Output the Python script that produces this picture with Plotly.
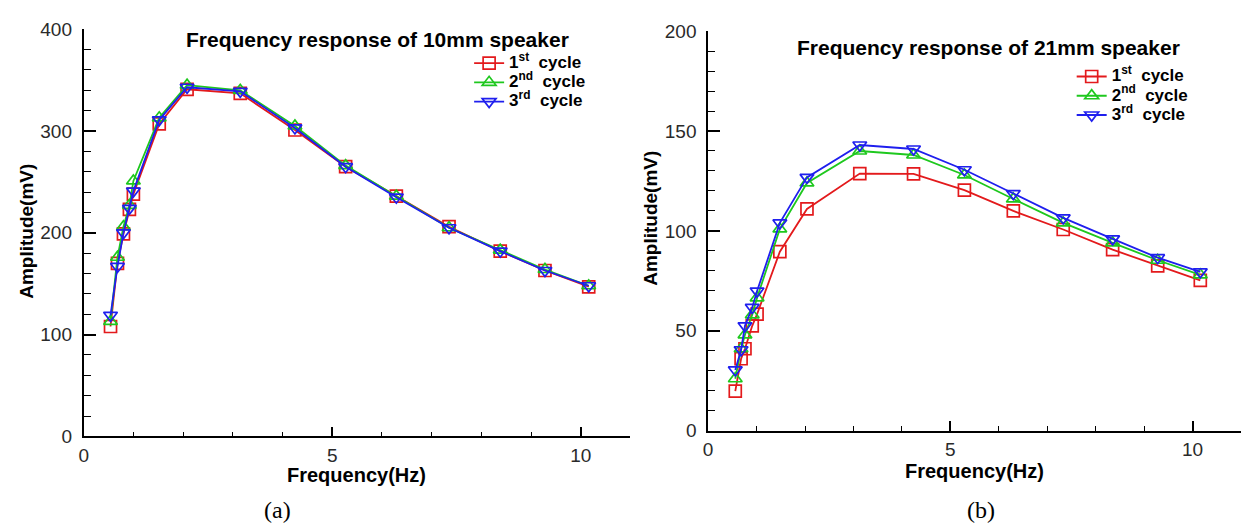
import plotly.graph_objects as go

# ---- data: 10 mm speaker (a) ----
freq_a = [0.54, 0.68, 0.80, 0.92, 1.00, 1.52, 2.08, 3.15, 4.25, 5.27, 6.29, 7.35, 8.38, 9.28, 10.16]
a_cycle1 = [108, 170, 199, 223, 238, 307, 341, 337, 301, 265, 236, 206, 182, 163, 147]
a_cycle2 = [113, 176, 206, 227, 251, 313, 345, 340, 305, 266, 236, 205, 183, 164, 148]
a_cycle3 = [119, 167, 200, 224, 241, 311, 343, 339, 303, 265, 235, 205, 182, 163, 148]

# ---- data: 21 mm speaker (b) ----
freq_b = [0.56, 0.68, 0.76, 0.91, 1.01, 1.48, 2.04, 3.13, 4.24, 5.29, 6.30, 7.33, 8.35, 9.28, 10.16]
b_cycle1 = [19.8, 36, 41, 52.5, 58.3, 89.6, 111, 128.7, 128.5, 120.4, 110, 100.7, 90.6, 82.5, 75.2]
b_cycle2 = [26, 41, 48, 58, 66.5, 101, 124, 140, 138, 128, 116, 104, 94, 85.3, 78]
b_cycle3 = [30.4, 40.5, 52.5, 61.7, 69.9, 104, 126.8, 143, 141, 130.6, 118.7, 106.5, 96, 86.6, 79.5]

cycle_labels = [("1", "st"), ("2", "nd"), ("3", "rd")]
cycle_names = ["<span style='font-size:17px'>%s<sup>%s</sup>  cycle</span>" % c for c in cycle_labels]
colors = ["#e31a1c", "#1ec81e", "#1f1fee"]
symbols = ["square-open", "triangle-up-open", "triangle-down-open"]

title_a = "Frequency response of 10mm speaker"
title_b = "Frequency response of 21mm speaker"
xlabel = "Frequency(Hz)"
ylabel = "Amplitude(mV)"

FONT = "Liberation Sans, Arial, sans-serif"
W, H = 1241, 531

fig = go.Figure()

for i, ys in enumerate([a_cycle1, a_cycle2, a_cycle3]):
    fig.add_trace(go.Scatter(
        x=freq_a, y=ys, mode="lines+markers", name=cycle_names[i],
        line=dict(color=colors[i], width=1.8),
        marker=dict(symbol=symbols[i], size=12, color=colors[i], line=dict(width=1.7, color=colors[i])),
        xaxis="x", yaxis="y", legend="legend"))

for i, ys in enumerate([b_cycle1, b_cycle2, b_cycle3]):
    fig.add_trace(go.Scatter(
        x=freq_b, y=ys, mode="lines+markers", name=cycle_names[i],
        line=dict(color=colors[i], width=1.8),
        marker=dict(symbol=symbols[i], size=12, color=colors[i], line=dict(width=1.7, color=colors[i])),
        xaxis="x2", yaxis="y2", legend="legend2"))

def px(x):
    return x / W

def py(y):
    return 1 - y / H

tickfont = dict(family=FONT, size=19, color="#2a2a2a")
axis_common = dict(showline=True, linecolor="black", linewidth=1.8, showgrid=False,
                   zeroline=False, ticks="inside", tickcolor="black", tickwidth=1.5,
                   tickfont=tickfont, mirror=False)

fig.update_layout(
    width=W, height=H,
    margin=dict(l=0, r=0, t=0, b=0),
    paper_bgcolor="white", plot_bgcolor="white",
    font=dict(family=FONT),
    xaxis=dict(domain=[px(79), px(628)], range=[0, 11], dtick=5, tick0=0, ticklen=10,
               minor=dict(dtick=1, ticks="inside", ticklen=5, tickcolor="black", tickwidth=1),
               anchor="y", ticklabelstandoff=1, **axis_common),
    yaxis=dict(domain=[py(444), py(20)], range=[0, 400], dtick=100, tick0=0, ticklen=12,
               minor=dict(dtick=20, ticks="inside", ticklen=7, tickcolor="black", tickwidth=1),
               anchor="x", ticklabelstandoff=6, **axis_common),
    xaxis2=dict(domain=[px(706), 1.0], range=[0, 11], dtick=5, tick0=0, ticklen=10,
                minor=dict(dtick=1, ticks="inside", ticklen=5, tickcolor="black", tickwidth=1),
                anchor="y2", ticklabelstandoff=1, **axis_common),
    yaxis2=dict(domain=[py(438), py(22)], range=[0, 200], dtick=50, tick0=0, ticklen=12,
                minor=dict(dtick=10, ticks="inside", ticklen=7, tickcolor="black", tickwidth=1),
                anchor="x2", ticklabelstandoff=6, **axis_common),
    legend=dict(x=px(466), y=py(40), xanchor="left", yanchor="top",
                font=dict(family=FONT, size=12.5, color="black", weight="bold"),
                bgcolor="rgba(0,0,0,0)", borderwidth=0, tracegroupgap=0),
    legend2=dict(x=px(1071), y=py(54), xanchor="left", yanchor="top",
                 font=dict(family=FONT, size=12.5, color="black", weight="bold"),
                 bgcolor="rgba(0,0,0,0)", borderwidth=0, tracegroupgap=0),
    showlegend=True,
)

ann = []
ann.append(dict(text=title_a, x=px(180), y=py(31), xref="paper", yref="paper",
                xanchor="left", yanchor="middle", showarrow=False,
                font=dict(family=FONT, size=21, color="black", weight="bold")))
ann.append(dict(text=title_b, x=px(793), y=py(39), xref="paper", yref="paper",
                xanchor="left", yanchor="middle", showarrow=False,
                font=dict(family=FONT, size=21, color="black", weight="bold")))
for xc, yc in [(22, 230), (648, 217)]:
    ann.append(dict(text=ylabel, x=px(xc), y=py(yc), xref="paper", yref="paper",
                    xanchor="center", yanchor="middle", textangle=-90, showarrow=False,
                    font=dict(family=FONT, size=19, color="black", weight="bold")))
for xc, yc in [(353, 484), (973, 480)]:
    ann.append(dict(text=xlabel, x=px(xc), y=py(yc), xref="paper", yref="paper",
                    xanchor="center", yanchor="middle", showarrow=False,
                    font=dict(family=FONT, size=20, color="black", weight="bold")))
for txt, xc in [("(a)", 274), ("(b)", 980)]:
    ann.append(dict(text=txt, x=px(xc), y=py(521), xref="paper", yref="paper",
                    xanchor="center", yanchor="middle", showarrow=False,
                    font=dict(family="Liberation Serif, Times New Roman, serif", size=24, color="black")))
fig.update_layout(annotations=ann)

fig.write_html("out.html")
